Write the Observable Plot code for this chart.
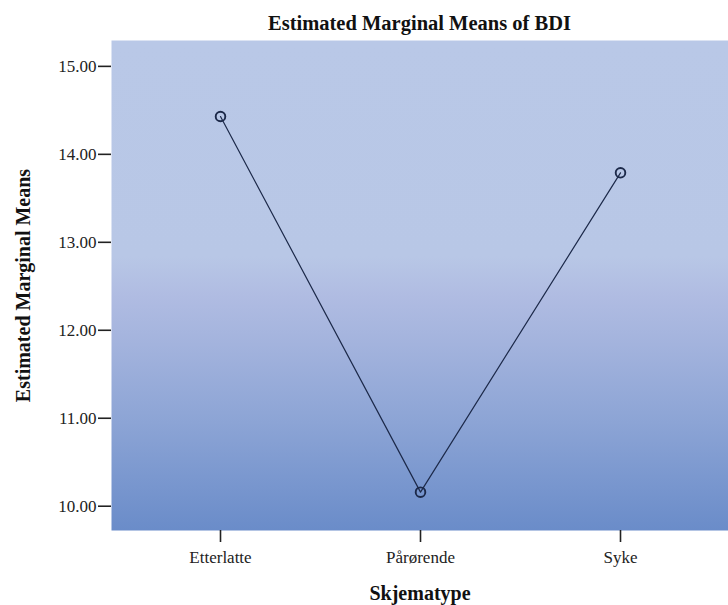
<!DOCTYPE html>
<html>
<head>
<meta charset="utf-8">
<script src="https://cdn.jsdelivr.net/npm/d3@7"></script>
<script src="https://cdn.jsdelivr.net/npm/@observablehq/plot@0.6"></script>
<style>
  html, body { margin: 0; padding: 0; background: #ffffff; }
  #title {
    width: 728px; height: 40px; box-sizing: border-box;
    padding-left: 111px; padding-top: 12px;
    text-align: center;
    font-family: "Liberation Serif", "Times New Roman", serif;
    font-weight: bold; font-size: 20.5px; line-height: 22px; color: #111;
  }
  svg { display: block; }
</style>
</head>
<body>
<div id="title">Estimated Marginal Means of BDI</div>
<div id="chart"></div>
<script>
const categories = ["Etterlatte", "Pårørende", "Syke"];
const means = [14.43, 10.16, 13.79];
const yTicks = [10, 11, 12, 13, 14, 15];
const yDomain = [9.724, 15.294];
const xLabel = "Skjematype";
const yLabel = "Estimated Marginal Means";

const data = categories.map((c, i) => ({ cat: c, mean: means[i] }));

const ink = "#1c2949";

const svg = Plot.plot({
  width: 728,
  height: 565,
  marginTop: 0,
  marginBottom: 75,
  marginLeft: 111,
  marginRight: 0,
  style: {
    fontFamily: "'Liberation Serif', 'Times New Roman', serif",
    fontSize: "17px",
    color: "#222",
    background: "transparent"
  },
  x: { type: "point", domain: categories, padding: 0.54 },
  y: { domain: yDomain },
  marks: [
    Plot.frame({ fill: "url(#bgGrad)", stroke: "none" }),
    Plot.axisY({
      ticks: yTicks,
      tickFormat: d => d.toFixed(2),
      tickSize: 13,
      tickPadding: 2,
      strokeWidth: 1.6,
      stroke: "#222",
      label: yLabel,
      labelArrow: "none",
      labelAnchor: "center",
      labelOffset: 96,
      fontSize: 17
    }),
    Plot.axisX({
      tickSize: 12,
      tickPadding: 8,
      strokeWidth: 1.6,
      stroke: "#222",
      label: xLabel,
      labelArrow: "none",
      labelAnchor: "center",
      labelOffset: 69,
      fontSize: 17
    }),
    Plot.line(data, { x: "cat", y: "mean", stroke: ink, strokeWidth: 1.2 }),
    Plot.dot(data, { x: "cat", y: "mean", r: 4.8, stroke: ink, strokeWidth: 1.9, fill: "none" })
  ]
});

// gradient definition for the plot background
const ns = "http://www.w3.org/2000/svg";
const defs = document.createElementNS(ns, "defs");
const grad = document.createElementNS(ns, "linearGradient");
grad.setAttribute("id", "bgGrad");
grad.setAttribute("x1", "0"); grad.setAttribute("y1", "0");
grad.setAttribute("x2", "0"); grad.setAttribute("y2", "1");
[
  [0, "#b9c8e7"],
  [0.44, "#b8c7e6"],
  [0.52, "#b0bce2"],
  [0.62, "#a3b3dd"],
  [0.78, "#8ca4d5"],
  [1, "#6a8cc9"]
].forEach(([o, c]) => {
  const s = document.createElementNS(ns, "stop");
  s.setAttribute("offset", o);
  s.setAttribute("stop-color", c);
  grad.appendChild(s);
});
defs.appendChild(grad);
svg.insertBefore(defs, svg.firstChild);

// make axis labels bold and a little larger
svg.querySelectorAll("[aria-label='x-axis label'], [aria-label='y-axis label']").forEach(g => {
  g.setAttribute("font-weight", "bold");
  g.setAttribute("font-size", "20px");
  g.setAttribute("fill", "#111");
});

document.getElementById("chart").appendChild(svg);
</script>
</body>
</html>
